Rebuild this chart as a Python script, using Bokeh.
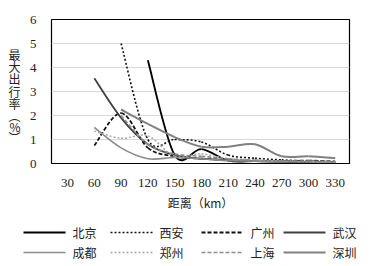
from bokeh.plotting import figure
from bokeh.layouts import column
from bokeh.models import FixedTicker, ColumnDataSource, Range1d, LinearAxis
from bokeh.core.properties import value
from bokeh.embed import file_html
from bokeh.resources import INLINE

distance = [30, 60, 90, 120, 150, 180, 210, 240, 270, 300, 330]
x_tick_labels = ["30", "60", "90", "120", "150", "180", "210", "240", "270", "300", "330"]
y_ticks = [0, 1, 2, 3, 4, 5, 6]
y_title_chars = ["最", "大", "出", "行", "率", "︵", "%", "︶"]
y_title_pos = [4.56, 4.05, 3.53, 3.02, 2.51, 1.99, 1.54, 1.09]
x_title = "距离（km）"

beijing = [None, None, None, 4.3, 0.35, 0.6, 0.12, 0.1, 0.08, 0.06, 0.05]
xian = [None, None, 5.0, 1.0, 1.0, 0.9, 0.35, 0.22, 0.15, 0.1, 0.08]
guangzhou = [None, 0.75, 2.1, 0.65, 0.3, 0.2, 0.15, 0.12, 0.1, 0.12, 0.08]
wuhan = [None, 3.55, 1.9, 0.8, 0.35, 0.2, 0.15, 0.1, 0.08, 0.07, 0.05]
chengdu = [None, 1.5, 0.65, 0.2, 0.25, 0.2, 0.12, 0.1, 0.08, 0.06, 0.05]
zhengzhou = [None, 1.35, 1.05, 1.15, 0.3, 0.4, 0.2, 0.15, 0.1, 0.08, 0.06]
shanghai = [None, None, 2.0, 0.8, 0.4, 0.3, 0.2, 0.12, 0.1, 0.1, 0.08]
shenzhen = [None, None, 2.25, 1.65, 1.1, 0.7, 0.7, 0.8, 0.3, 0.3, 0.22]

series = [
    ("北京", beijing, dict(line_color="#000000", line_width=1.9, line_dash="solid")),
    ("西安", xian, dict(line_color="#111111", line_width=1.6, line_dash="2 2")),
    ("广州", guangzhou, dict(line_color="#111111", line_width=1.8, line_dash="4 2")),
    ("武汉", wuhan, dict(line_color="#404040", line_width=1.8, line_dash="solid")),
    ("成都", chengdu, dict(line_color="#8c8c8c", line_width=1.6, line_dash="solid")),
    ("郑州", zhengzhou, dict(line_color="#a6a6a6", line_width=1.5, line_dash="2 2")),
    ("上海", shanghai, dict(line_color="#8c8c8c", line_width=1.6, line_dash="4 2")),
    ("深圳", shenzhen, dict(line_color="#808080", line_width=2.0, line_dash="solid")),
]

FONT_CJK = "Noto Sans CJK SC"
TXT = "#222222"

p = figure(width=372, height=213, output_backend="svg", toolbar_location=None,
           x_range=(12, 346), y_range=(0, 6),
           min_border_left=51, min_border_right=23, min_border_top=19, min_border_bottom=48)

p.outline_line_color = "#000000"
p.outline_line_width = 1.2
p.background_fill_color = "white"
p.border_fill_color = "white"

p.xgrid.visible = False
p.ygrid.grid_line_color = "#d9d9d9"
p.ygrid.grid_line_width = 1
p.ygrid.ticker = FixedTicker(ticks=y_ticks)

p.xaxis.ticker = FixedTicker(ticks=distance)
p.xaxis.major_label_overrides = {d: l for d, l in zip(distance, x_tick_labels)}
p.yaxis.ticker = FixedTicker(ticks=y_ticks)
for ax in (p.xaxis, p.yaxis):
    ax.major_tick_line_color = None
    ax.minor_tick_line_color = None
    ax.axis_line_color = None
    ax.major_label_text_font = "Liberation Serif"
    ax.major_label_text_font_size = "13px"
    ax.major_label_text_color = TXT
    ax.major_label_standoff = 9
p.xaxis.axis_label = x_title
p.xaxis.axis_label_text_font = FONT_CJK
p.xaxis.axis_label_text_font_size = "12px"
p.xaxis.axis_label_text_font_style = "normal"
p.xaxis.axis_label_text_color = TXT
p.xaxis.axis_label_standoff = 4

# stacked upright y-axis title, drawn as the labels of a second left axis
title_axis = LinearAxis(ticker=FixedTicker(ticks=y_title_pos),
                        major_label_overrides={t: c for t, c in zip(y_title_pos, y_title_chars)},
                        major_label_orientation="horizontal",
                        major_label_standoff=0,
                        major_label_text_font=FONT_CJK,
                        major_label_text_font_size="12px",
                        major_label_text_color=TXT,
                        major_tick_line_color=None, minor_tick_line_color=None,
                        axis_line_color=None)
p.add_layout(title_axis, "left")


def smooth_segments(xs, ys):
    pts = [(x, y) for x, y in zip(xs, ys) if y is not None]
    n = len(pts)
    d = dict(x0=[], y0=[], x1=[], y1=[], cx0=[], cy0=[], cx1=[], cy1=[])
    for i in range(n - 1):
        p0 = pts[i - 1] if i > 0 else pts[i]
        p1 = pts[i]
        p2 = pts[i + 1]
        p3 = pts[i + 2] if i + 2 < n else pts[i + 1]
        d["x0"].append(p1[0]); d["y0"].append(p1[1])
        d["x1"].append(p2[0]); d["y1"].append(p2[1])
        d["cx0"].append(p1[0] + (p2[0] - p0[0]) / 6.0)
        d["cy0"].append(p1[1] + (p2[1] - p0[1]) / 6.0)
        d["cx1"].append(p2[0] - (p3[0] - p1[0]) / 6.0)
        d["cy1"].append(p2[1] - (p3[1] - p1[1]) / 6.0)
    return ColumnDataSource(d)


for name, vals, style in series:
    src = smooth_segments(distance, vals)
    p.bezier(x0="x0", y0="y0", x1="x1", y1="y1", cx0="cx0", cy0="cy0",
             cx1="cx1", cy1="cy1", source=src, **style)

# legend panel (pixel-like coordinates)
leg = figure(width=372, height=53, output_backend="svg", toolbar_location=None,
             x_range=Range1d(0, 372), y_range=Range1d(53, 0),
             min_border=0, min_border_left=0, min_border_right=0,
             min_border_top=0, min_border_bottom=0)
leg.frame_align = False
leg.axis.visible = False
leg.grid.visible = False
leg.outline_line_color = None
leg.background_fill_color = "white"
leg.border_fill_color = "white"

col_x = [23, 110, 201, 283]
row_y = [19, 39]
for k, (name, vals, style) in enumerate(series):
    r, c = divmod(k, 4)
    x0 = col_x[c]
    y = row_y[r]
    leg.segment(x0=[x0], y0=[y], x1=[x0 + 42], y1=[y], **style)
    leg.text(x=[x0 + 49], y=[y], text=[name], text_align="left", text_baseline="middle",
             text_font=value(FONT_CJK), text_font_size="12px", text_color=TXT)

layout = column(p, leg, spacing=0)
open("out.html", "w").write(file_html(layout, INLINE))
